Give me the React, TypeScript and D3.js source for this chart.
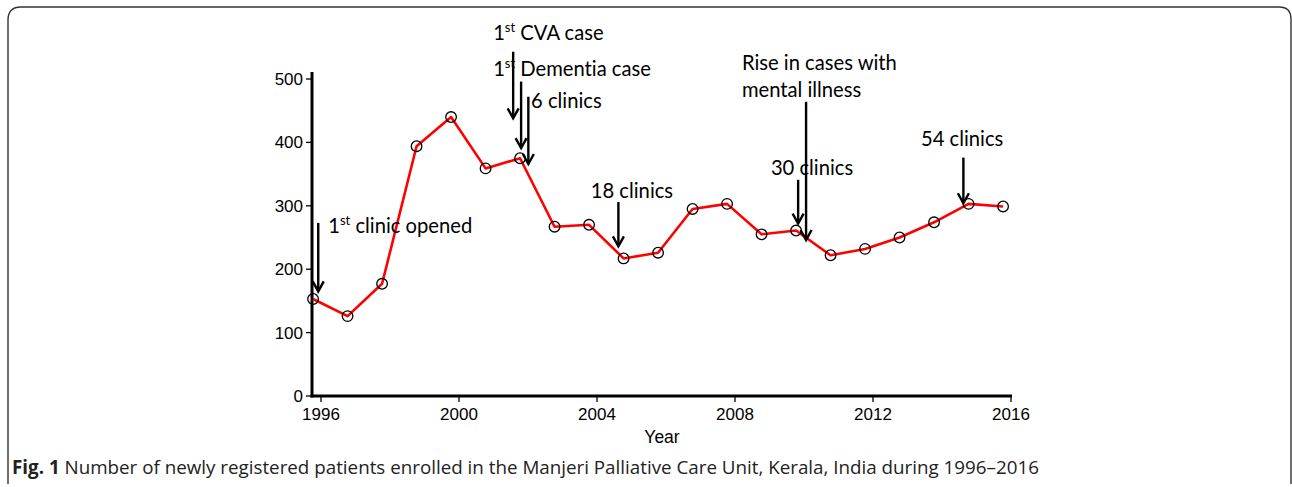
import * as d3 from "d3";

const years = [1996, 1997, 1998, 1999, 2000, 2001, 2002, 2003, 2004, 2005, 2006, 2007, 2008, 2009, 2010, 2011, 2012, 2013, 2014, 2015, 2016];
const patients = [153, 126, 177, 394, 440, 359, 375, 267, 270, 217, 226, 295, 303, 255, 261, 222, 232, 250, 274, 303, 299];

const xTicks = [1996, 2000, 2004, 2008, 2012, 2016];
const yTicks = [0, 100, 200, 300, 400, 500];

// annotation labels (sup = superscript after the first char)
const noteLabels = [
  { lead: "1", sup: "st", rest: " CVA case" },
  { lead: "1", sup: "st", rest: " Dementia case" },
  { lead: "6 clinics", sup: "", rest: "" },
  { lead: "18 clinics", sup: "", rest: "" },
  { lead: "1", sup: "st", rest: " clinic opened" },
  { lead: "Rise in cases with", sup: "", rest: "" },
  { lead: "mental illness", sup: "", rest: "" },
  { lead: "30 clinics", sup: "", rest: "" },
  { lead: "54 clinics", sup: "", rest: "" },
];
// label anchors in data units [year, value at baseline]
const noteYears = [2000.99, 2000.99, 2002.09, 2003.82, 1996.21, 2008.2, 2008.2, 2009.04, 2013.39];
const noteValues = [561, 504, 455, 313, 257, 514, 472, 349, 394];

// arrows: x in years, from value -> tip value
const arrowYears = [2001.57, 2001.8, 2002.01, 2004.62, 1995.92, 2010.06, 2009.83, 2014.62];
const arrowFrom = [543, 496, 472, 306, 273, 464, 341, 376];
const arrowTo = [438, 391, 366, 236, 165, 246, 272, 304];

const W = 1292;
const H = 487;
const pointShift = -0.23; // markers sit slightly left of the year tick

const App = () => {
  const x = d3.scaleLinear().domain([1996, 2016]).range([321, 1011]);
  const y = d3.scaleLinear().domain([0, 500]).range([396, 79]);

  const pts = years.map((yr, i) => [x(yr + pointShift), y(patients[i])] as [number, number]);
  const line = d3.line()(pts) ?? "";

  const axisFont = "'Liberation Sans', Arial, sans-serif";
  const noteFont = "Lato, 'Open Sans', sans-serif";

  return (
    <svg width={W} height={H} style={{ position: "absolute", left: 0, top: 0, background: "#fff" }}>
      {/* frame */}
      <path
        d={`M8,484 L8,20 Q8,7 21,7 L1279,7 Q1291,7 1291,19 L1291,484`}
        fill="none"
        stroke="#333"
        strokeWidth={1.4}
      />

      {/* axes */}
      <line x1={312} x2={312} y1={72} y2={397.5} stroke="#000" strokeWidth={3} />
      <line x1={310.5} x2={1012} y1={396} y2={396} stroke="#000" strokeWidth={3} />
      {yTicks.map((t) => (
        <g key={t}>
          <line x1={306} x2={312} y1={y(t)} y2={y(t)} stroke="#000" strokeWidth={1.3} />
          <text x={303} y={y(t) + 6} textAnchor="end" fontFamily={axisFont} fontSize={17} fill="#000">
            {t}
          </text>
        </g>
      ))}
      {xTicks.map((t) => (
        <g key={t}>
          <line x1={x(t)} x2={x(t)} y1={396} y2={402} stroke="#000" strokeWidth={1.3} />
          <text x={x(t)} y={420} textAnchor="middle" fontFamily={axisFont} fontSize={17} fill="#000">
            {t}
          </text>
        </g>
      ))}
      <text x={662} y={443} textAnchor="middle" fontFamily={axisFont} fontSize={17.5} fill="#000">
        Year
      </text>

      {/* series */}
      <path d={line} fill="none" stroke="#ff0000" strokeWidth={2.6} strokeLinejoin="round" />
      {pts.map((p, i) => (
        <circle key={i} cx={p[0]} cy={p[1]} r={5.3} fill="none" stroke="#000" strokeWidth={1.3} />
      ))}

      {/* arrows */}
      {arrowYears.map((yr, i) => {
        const ax = x(yr);
        const y0 = y(arrowFrom[i]);
        const y1 = y(arrowTo[i]);
        return (
          <g key={i} stroke="#000" fill="none" strokeWidth={2.4}>
            <line x1={ax} x2={ax} y1={y0} y2={y1 - 1} />
            <polyline points={`${ax - 5.5},${y1 - 10} ${ax},${y1} ${ax + 5.5},${y1 - 10}`} />
          </g>
        );
      })}

      {/* annotation text */}
      {noteLabels.map((n, i) => (
        <text
          key={i}
          x={x(noteYears[i])}
          y={y(noteValues[i])}
          fontFamily={noteFont}
          fontSize={20.2}
          fill="#000"
          style={{ fontVariantLigatures: "none" }}
        >
          {n.lead}
          {n.sup && (
            <tspan fontSize={13} dy={-8}>
              {n.sup}
            </tspan>
          )}
          {n.rest && <tspan dy={n.sup ? 8 : 0}>{n.rest}</tspan>}
        </text>
      ))}

      {/* caption */}
      <text x={12} y={474} fontFamily="'Open Sans', sans-serif" fontSize={18.8} fill="#222">
        <tspan fontWeight="bold">Fig. 1</tspan>
        {" Number of newly registered patients enrolled in the Manjeri Palliative Care Unit, Kerala, India during 1996–2016"}
      </text>
    </svg>
  );
};

export default App;
